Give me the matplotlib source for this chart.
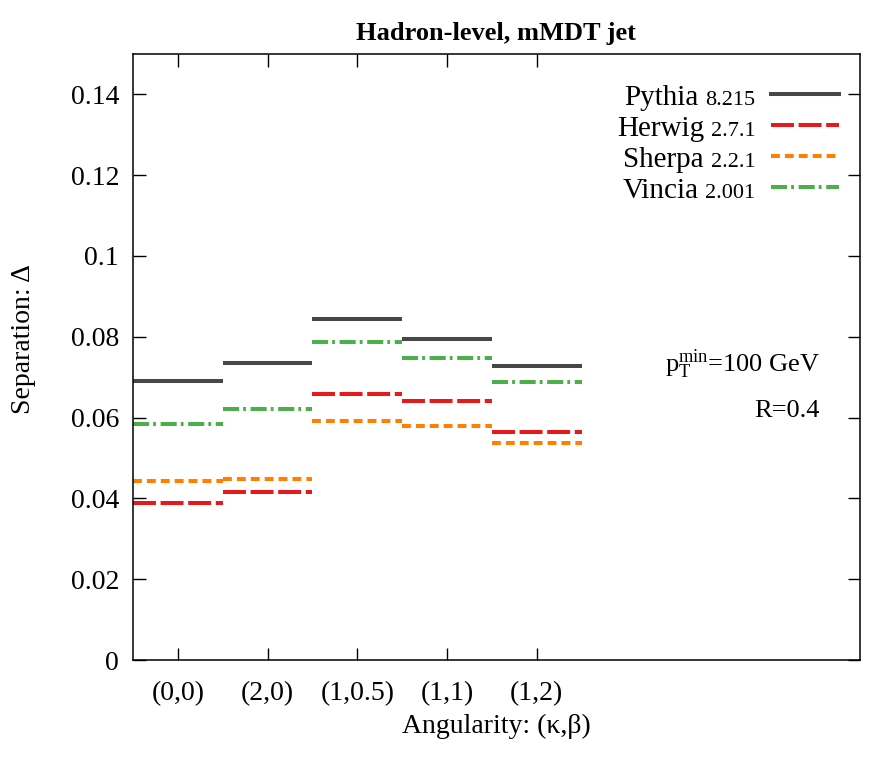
import matplotlib
matplotlib.use("Agg")
import matplotlib.pyplot as plt
from matplotlib.lines import Line2D
from matplotlib.offsetbox import AnchoredOffsetbox, DrawingArea, HPacker, TextArea, VPacker
import numpy as np

plt.rcParams["font.family"] = ["Liberation Serif", "DejaVu Serif"]
plt.rcParams["mathtext.fontset"] = "custom"
plt.rcParams["mathtext.rm"] = "Liberation Serif"
plt.rcParams["mathtext.it"] = "Liberation Serif:italic"

# angularity bins
categories = ["(0,0)", "(2,0)", "(1,0.5)", "(1,1)", "(1,2)"]

# separation per generator
pythia = [0.0690, 0.0735, 0.0844, 0.0795, 0.0728]
herwig = [0.0389, 0.0417, 0.0659, 0.0640, 0.0564]
sherpa = [0.0443, 0.0448, 0.0591, 0.0580, 0.0538]
vincia = [0.0585, 0.0621, 0.0787, 0.0748, 0.0687]

names = ["Pythia", "Herwig", "Sherpa", "Vincia"]
versions = ["8.215", "2.7.1", "2.2.1", "2.001"]

ytick_values = [0, 0.02, 0.04, 0.06, 0.08, 0.1, 0.12, 0.14]
ytick_labels = ["0", "0.02", "0.04", "0.06", "0.08", "0.1", "0.12", "0.14"]

LW = 2.9
styles = [
    dict(color="#474747", linestyle="-"),
    dict(color="#e41a1c", linestyle=(0, (5.7, 1.15))),
    dict(color="#ff7f00", linestyle=(0, (2.2, 1.25))),
    dict(color="#4daf4a", linestyle=(0, (4.0, 1.0, 0.7, 1.15))),
]

fig = plt.figure(figsize=(8.86, 7.67), dpi=100)
ax = fig.add_axes([0.150, 0.1395, 0.8205, 0.7901])

x = np.arange(len(categories))
for values, style in zip([pythia, herwig, sherpa, vincia], styles):
    ax.hlines(values, x - 0.5, x + 0.5, linewidth=LW, **style)

ax.set_xlim(-0.5, 7.6)
ax.set_ylim(0, 0.15)
ax.set_xticks(x)
ax.set_xticklabels(categories)
ax.set_yticks(ytick_values)
ax.set_yticklabels(ytick_labels)
ax.tick_params(direction="in", length=9, width=1.0, top=True, right=True, labelsize=20, pad=10)
ax.tick_params(axis="x", pad=15)
for spine in ax.spines.values():
    spine.set_linewidth(1.1)

ax.set_title("Hadron-level, mMDT jet", fontsize=19, fontweight="bold", pad=10)
ax.set_xlabel("Angularity: (κ,β)", fontsize=20, labelpad=6)
ax.set_ylabel("Separation: Δ", fontsize=20)
ax.yaxis.set_label_coords(-0.1335, 0.53)

# legend with mixed font sizes
rows = []
for name, ver, style in zip(names, versions, styles):
    da = DrawingArea(49, 16, 0, 0)
    da.add_artist(Line2D([0, 49], [8, 8], linewidth=LW, **style))
    label = HPacker(children=[TextArea(name, textprops=dict(fontsize=21)),
                              TextArea(ver, textprops=dict(fontsize=16))],
                    align="baseline", pad=0, sep=5)
    rows.append(HPacker(children=[label, da], align="baseline", pad=0, sep=11))
box = VPacker(children=rows, align="right", pad=0, sep=1.9)
anchored = AnchoredOffsetbox(loc="upper right", child=box, pad=0, borderpad=0, frameon=False,
                             bbox_to_anchor=(0.971, 0.952), bbox_transform=ax.transAxes)
ax.add_artist(anchored)

ax.text(0.945, 0.475, r"p$_\mathrm{T}^\mathrm{min}$=100 GeV", transform=ax.transAxes,
        ha="right", va="baseline", fontsize=19)
ax.text(0.945, 0.401, "R=0.4", transform=ax.transAxes, ha="right", va="baseline", fontsize=19)

fig.savefig("out.png", dpi=100)
